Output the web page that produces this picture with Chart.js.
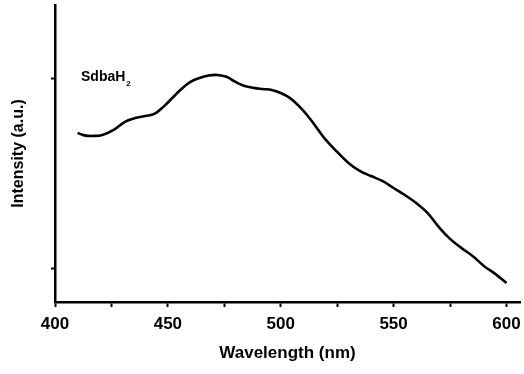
<!DOCTYPE html>
<html>
<head>
  <meta charset="utf-8">
  <script src="https://cdn.jsdelivr.net/npm/chart.js@4.4.1/dist/chart.umd.min.js"></script>
  <style>
    * { margin: 0; padding: 0; box-sizing: border-box; }
    body { background: #fff; width: 524px; height: 374px; overflow: hidden; }
    .chart-container { position: relative; width: 524px; height: 374px; }
  </style>
</head>
<body>
  <div class="chart-container">
    <canvas id="chart" width="524" height="374"></canvas>
  </div>
  <script>
    // Emission spectrum (arbitrary units)
    const wavelength = [410, 413, 417, 421, 426, 431, 436, 440, 444, 448, 452, 456, 460, 464, 468, 472, 476, 480, 484, 488, 492, 496, 500, 504, 508, 512, 516, 520, 525, 530, 535, 540, 545, 550, 555, 560, 565, 570, 575, 580, 585, 590, 595, 600];
    const intensity = [1.716, 1.703, 1.700, 1.705, 1.732, 1.774, 1.795, 1.805, 1.816, 1.853, 1.900, 1.947, 1.984, 2.005, 2.018, 2.021, 2.011, 1.984, 1.963, 1.953, 1.947, 1.942, 1.926, 1.900, 1.858, 1.805, 1.742, 1.679, 1.616, 1.558, 1.516, 1.489, 1.463, 1.426, 1.389, 1.347, 1.295, 1.221, 1.158, 1.111, 1.068, 1.016, 0.974, 0.926];
    const xTicks = [400, 425, 450, 475, 500, 525, 550, 575, 600];
    const yTicks = [1, 2];
    const seriesLabel = 'SdbaH';

    const FONT = '"Liberation Sans", Arial, sans-serif';

    // sample name with subscript 2
    const labelPlugin = {
      id: 'sampleLabel',
      afterDraw(chart) {
        const ctx = chart.ctx;
        ctx.save();
        ctx.fillStyle = '#000';
        ctx.textBaseline = 'alphabetic';
        ctx.font = 'bold 14px ' + FONT;
        ctx.fillText(seriesLabel, 81, 81);
        const w = ctx.measureText(seriesLabel).width;
        ctx.font = 'bold 8px ' + FONT;
        ctx.fillText('2', 81 + w + 1, 86);
        ctx.restore();
      }
    };

    const points = wavelength.map((x, i) => ({ x, y: intensity[i] }));

    new Chart(document.getElementById('chart'), {
      type: 'line',
      data: {
        datasets: [{
          data: points,
          borderColor: '#000',
          borderWidth: 2.6,
          pointRadius: 0,
          tension: 0.4,
          fill: false
        }]
      },
      options: {
        responsive: false,
        animation: false,
        devicePixelRatio: 1,
        layout: { padding: { top: 5, right: 4, left: 0, bottom: 0 } },
        plugins: { legend: { display: false }, tooltip: { enabled: false } },
        scales: {
          x: {
            type: 'linear',
            min: 400,
            max: 606,
            afterBuildTicks: s => { s.ticks = xTicks.map(v => ({ value: v })); },
            afterFit: s => { s.height = 72; s.paddingLeft = 0; s.paddingRight = 0; },
            ticks: {
              color: '#000',
              font: { family: FONT, size: 17, weight: 'bold' },
              padding: 7,
              maxRotation: 0,
              autoSkip: false,
              callback: v => (v % 50 === 0 ? String(v) : '')
            },
            grid: { drawOnChartArea: false, drawTicks: true, tickLength: 5, tickWidth: 2, tickColor: '#000' },
            border: { color: '#000', width: 2.5 },
            title: {
              display: true,
              text: 'Wavelength (nm)',
              color: '#000',
              font: { family: FONT, size: 17, weight: 'bold' },
              padding: { top: 0, bottom: 10 }
            }
          },
          y: {
            type: 'linear',
            min: 0.826,
            max: 2.389,
            afterBuildTicks: s => { s.ticks = yTicks.map(v => ({ value: v })); },
            afterFit: s => { s.width = 55; },
            ticks: { display: false },
            grid: { drawOnChartArea: false, drawTicks: true, tickLength: 4, tickWidth: 2, tickColor: '#000' },
            border: { color: '#000', width: 2.5 },
            title: {
              display: true,
              text: 'Intensity (a.u.)',
              color: '#000',
              font: { family: FONT, size: 16, weight: 'bold' },
              padding: { top: 9, bottom: 0 }
            }
          }
        }
      },
      plugins: [labelPlugin]
    });
  </script>
</body>
</html>
